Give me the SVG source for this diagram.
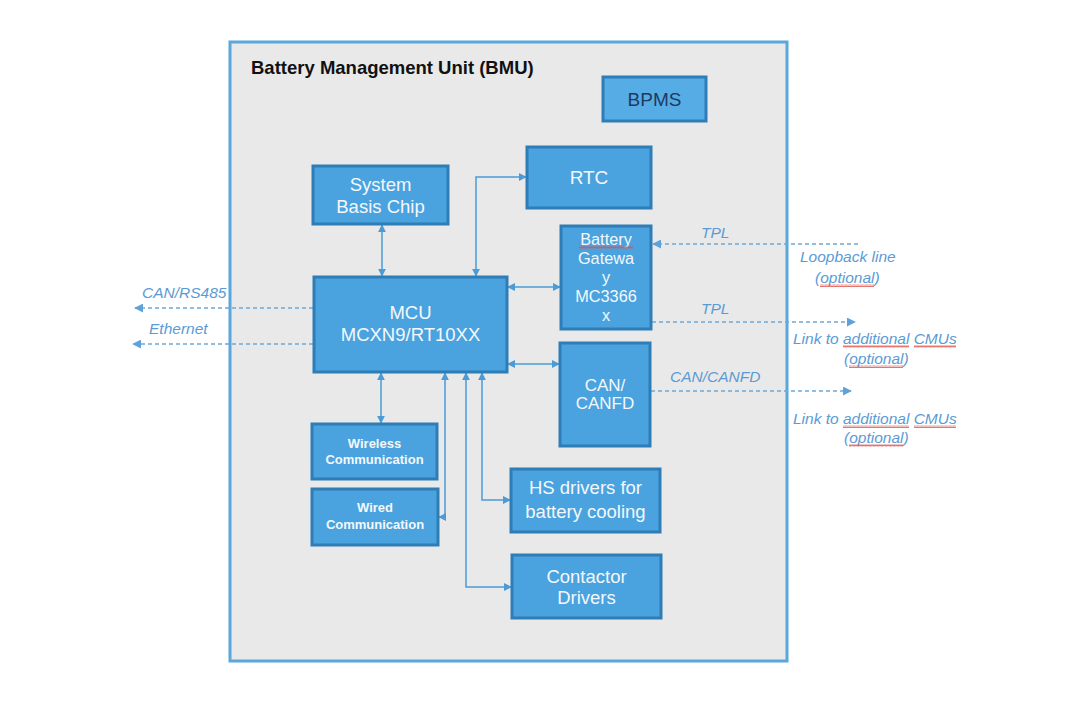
<svg xmlns="http://www.w3.org/2000/svg" width="1080" height="710" viewBox="0 0 1080 710">
<style>
.box{fill:#4aa3de;stroke:#2e7db6;stroke-width:3}
.bt{font-family:"Liberation Sans",Arial,sans-serif;fill:#f4f8fc;text-anchor:middle}
.lbl{font-family:"Liberation Sans",Arial,sans-serif;font-style:italic;font-size:15.5px;fill:#5b9bd5}
.sol{fill:none;stroke:#4a9bd6;stroke-width:1.5}
.dash{fill:none;stroke:#6ea8d8;stroke-width:1.5;stroke-dasharray:4 3}
.sq{fill:url(#wavy)}
</style>
<defs>
<marker id="a" viewBox="0 0 10 10" refX="9" refY="5" markerWidth="8" markerHeight="8" markerUnits="userSpaceOnUse" orient="auto-start-reverse"><path d="M0,0 L10,5 L0,10 z" fill="#4a9bd6"/></marker>
<marker id="d" viewBox="0 0 10 10" refX="9" refY="5" markerWidth="9" markerHeight="9" markerUnits="userSpaceOnUse" orient="auto"><path d="M0,0 L10,5 L0,10 z" fill="#5ea2da"/></marker>
<pattern id="wavy" width="4" height="3" patternUnits="userSpaceOnUse"><path d="M0,2.5 L1,0.5 L2,2.5 L3,0.5 L4,2.5" fill="none" stroke="#e0504a" stroke-width="0.8"/></pattern>
</defs>
<rect width="1080" height="710" fill="#ffffff"/>
<g id="bmu">
<rect x="230" y="42" width="557" height="619" fill="#e9e9e9" stroke="#5ba7dc" stroke-width="3"/>
<text x="251" y="74" font-family="Liberation Sans,Arial,sans-serif" font-weight="bold" font-size="18.5" fill="#111">Battery Management Unit (BMU)</text>
</g>
<g id="connectors">
<path class="sol" d="M382,225 V276" marker-start="url(#a)" marker-end="url(#a)"/>
<path class="sol" d="M476,276 V177 H526" marker-start="url(#a)" marker-end="url(#a)"/>
<path class="sol" d="M508,287 H560" marker-start="url(#a)" marker-end="url(#a)"/>
<path class="sol" d="M508,364 H559" marker-start="url(#a)" marker-end="url(#a)"/>
<path class="sol" d="M381,373 V423" marker-start="url(#a)" marker-end="url(#a)"/>
<path class="sol" d="M445,373 V517 H439" marker-start="url(#a)" marker-end="url(#a)"/>
<path class="sol" d="M466,373 V587 H511" marker-start="url(#a)" marker-end="url(#a)"/>
<path class="sol" d="M482,373 V500 H510" marker-start="url(#a)" marker-end="url(#a)"/>
<path class="dash" d="M313,308 H135" marker-end="url(#d)"/>
<path class="dash" d="M313,344 H133" marker-end="url(#d)"/>
<path class="dash" d="M858,244 H653" marker-end="url(#d)"/>
<path class="dash" d="M652,322 H855" marker-end="url(#d)"/>
<path class="dash" d="M651,391 H851" marker-end="url(#d)"/>
<text class="lbl" x="142" y="298">CAN/RS485</text>
<text class="lbl" x="149" y="334">Ethernet</text>
<text class="lbl" x="701" y="238">TPL</text>
<text class="lbl" x="701" y="314">TPL</text>
<text class="lbl" x="670" y="382">CAN/CANFD</text>
<text class="lbl" x="800" y="262">Loopback line</text>
<text class="lbl" x="815" y="283">(optional)</text>
<rect class="sq" x="820" y="284" width="54" height="3"/>
<text class="lbl" x="793" y="344">Link to additional CMUs</text>
<text class="lbl" x="844" y="364">(optional)</text>
<rect class="sq" x="843" y="345" width="66" height="3"/>
<rect class="sq" x="914" y="345" width="42" height="3"/>
<rect class="sq" x="849" y="365" width="54" height="3"/>
<text class="lbl" x="793" y="424">Link to additional CMUs</text>
<text class="lbl" x="844" y="443">(optional)</text>
<rect class="sq" x="843" y="425" width="66" height="3"/>
<rect class="sq" x="914" y="425" width="42" height="3"/>
<rect class="sq" x="849" y="444" width="54" height="3"/>
</g>
<g id="bpms">
<rect x="603" y="77" width="103" height="44" fill="#56ade6" stroke="#2e7db6" stroke-width="3"/>
<text x="654.5" y="106" font-family="Liberation Sans,Arial,sans-serif" font-size="19" fill="#1e3a5f" text-anchor="middle">BPMS</text>
</g>
<g id="rtc">
<rect class="box" x="527" y="147" width="124" height="61"/>
<text class="bt" x="589" y="184" font-size="19">RTC</text>
</g>
<g id="sbc">
<rect class="box" x="313" y="166" width="135" height="58"/>
<text class="bt" x="380.5" y="191" font-size="18.5">System</text>
<text class="bt" x="380.5" y="213" font-size="18.5">Basis Chip</text>
</g>
<g id="mcu">
<rect class="box" x="314" y="277" width="193" height="95"/>
<text class="bt" x="410.5" y="319" font-size="18.5">MCU</text>
<text class="bt" x="410.5" y="341" font-size="18.5">MCXN9/RT10XX</text>
</g>
<g id="gateway">
<rect class="box" x="561" y="226" width="90" height="103"/>
<text class="bt" x="606" y="245" font-size="16.3">Battery</text>
<rect class="sq" x="579" y="246" width="54" height="3"/>
<text class="bt" x="606" y="264" font-size="16.3">Gatewa</text>
<text class="bt" x="606" y="283" font-size="16.3">y</text>
<text class="bt" x="606" y="302" font-size="16.3">MC3366</text>
<text class="bt" x="606" y="321" font-size="16.3">x</text>
</g>
<g id="can">
<rect class="box" x="560" y="343" width="90" height="103"/>
<text class="bt" x="605" y="391" font-size="17">CAN/</text>
<text class="bt" x="605" y="409" font-size="17">CANFD</text>
</g>
<g id="wireless">
<rect class="box" x="312" y="424" width="125" height="55"/>
<text class="bt" x="374.5" y="448" font-size="13" font-weight="bold">Wireless</text>
<text class="bt" x="374.5" y="464" font-size="13" font-weight="bold">Communication</text>
</g>
<g id="wired">
<rect class="box" x="312" y="489" width="126" height="56"/>
<text class="bt" x="375" y="512" font-size="13" font-weight="bold">Wired</text>
<text class="bt" x="375" y="529" font-size="13" font-weight="bold">Communication</text>
</g>
<g id="hs">
<rect class="box" x="511" y="469" width="149" height="63"/>
<text class="bt" x="585.5" y="494" font-size="18.5">HS drivers for</text>
<text class="bt" x="585.5" y="518" font-size="18.5">battery cooling</text>
</g>
<g id="contactor">
<rect class="box" x="512" y="555" width="149" height="63"/>
<text class="bt" x="586.5" y="583" font-size="18.5">Contactor</text>
<text class="bt" x="586.5" y="604" font-size="18.5">Drivers</text>
</g>
</svg>
